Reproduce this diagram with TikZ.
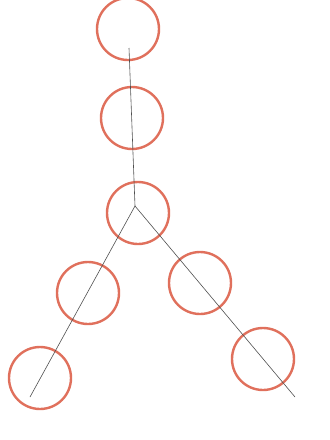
\documentclass[tikz,border=0pt]{standalone}
\usepackage{xcolor}
\usepackage{tikz}
\usetikzlibrary{positioning}
\definecolor{ringred}{HTML}{E0705C}
\definecolor{pencil}{HTML}{505050}

\begin{document}
\begin{tikzpicture}[x=1pt,y=-1pt,
    ring/.style={circle,draw=ringred,line width=2.4pt,minimum size=62pt,inner sep=0pt},
    stroke/.style={draw=pencil,line width=0.6pt}]
    \useasboundingbox[fill=white] (0,0) rectangle (330,440);
    % rings
    \foreach \name/\x/\y in {top/128/29,upper/132/118,hub/138/213,
        leftmid/88/293,rightmid/200/283,leftlow/40/378,rightlow/263/359}{
        \node[ring] (\name) at (\x,\y) {};
    }
    % pencil lines
    \coordinate (start) at (129,48);
    \coordinate (join) at (135,206);
    \coordinate (leftend) at (30,397);
    \coordinate (rightend) at (295,397);
    \draw[stroke] (start) -- (join);
    \draw[stroke] (join) -- (leftend);
    \draw[stroke] (join) -- (rightend);
\end{tikzpicture}
\end{document}
